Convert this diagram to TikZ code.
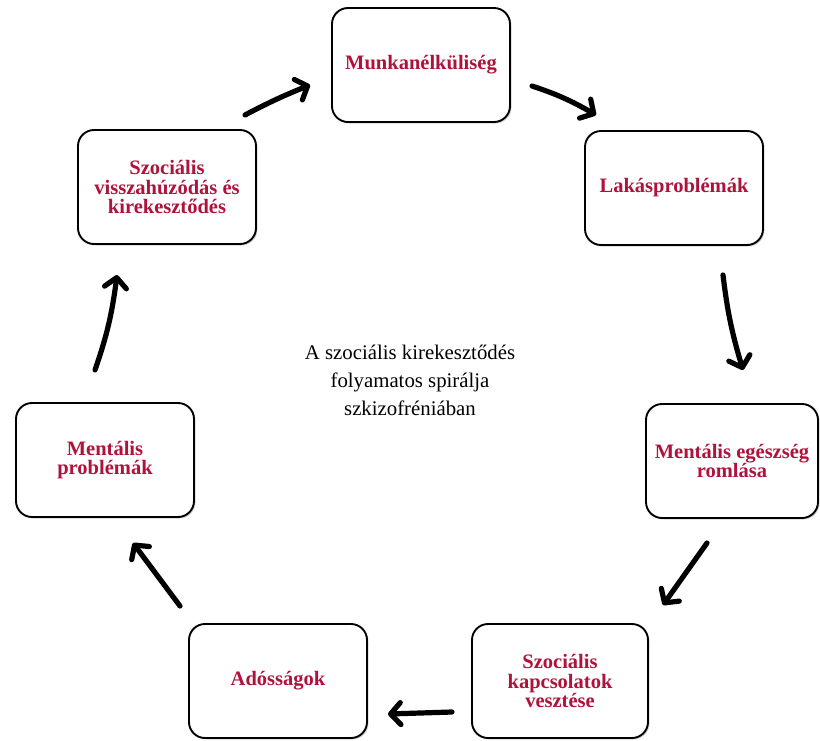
\documentclass[tikz,border=0pt]{standalone}
\usepackage{fontspec}
\setmainfont{Liberation Serif}
\usetikzlibrary{arrows.meta,shadows,bending}
\definecolor{crim}{RGB}{176,18,60}
\begin{document}
\begin{tikzpicture}[x=1pt,y=-1pt,
  box/.style={draw=black, line width=1.9pt, rounded corners=16pt, fill=white,
    minimum width=178pt, minimum height=114pt, align=center, text=crim,
    font=\bfseries\fontsize{20.5}{19.5}\selectfont,
    drop shadow={shadow xshift=1.5pt, shadow yshift=-1.5pt, opacity=0.35, fill=gray}},
  arr/.style={line width=5.2pt, line cap=round,
    -{Straight Barb[length=10pt,width=22pt,line cap=round,line join=round]}}]
\path[use as bounding box] (0,0) rectangle (820,740);

\node[box] (m) at (421,65) {Munkanélküliség};
\node[box] (l) at (674,188) {Lakásproblémák};
\node[box, minimum width=172pt] (e) at (732,461) {Mentális egészség\\romlása};
\node[box, minimum width=176pt] (k) at (560,681) {Szociális\\kapcsolatok\\vesztése};
\node[box] (d) at (278,681) {Adósságok};
\node[box] (p) at (105,460) {Mentális\\problémák};
\node[box] (v) at (167,187) {Szociális\\visszahúzódás és\\kirekesztődés};

\node[font=\fontsize{20.8}{28}\selectfont, align=center] (c) at (410,380)
  {A szociális kirekesztődés\\folyamatos spirálja\\szkizofréniában};

\coordinate (a1s) at (532,86);  \coordinate (a1e) at (596,115);
\coordinate (a2s) at (723,275); \coordinate (a2e) at (743,370);
\coordinate (a3s) at (707,543); \coordinate (a3e) at (663,605);
\coordinate (a4s) at (452,712); \coordinate (a4e) at (388,714);
\coordinate (a5s) at (180,606); \coordinate (a5e) at (133,543);
\coordinate (a6s) at (95,370);  \coordinate (a6e) at (117,275);
\coordinate (a7s) at (245,115); \coordinate (a7e) at (310,85);

\draw[arr] (a1s) to[bend left=6] (a1e);
\draw[arr] (a2s) to[bend right=5] (a2e);
\draw[arr] (a3s) -- (a3e);
\draw[arr] (a4s) -- (a4e);
\draw[arr] (a5s) -- (a5e);
\draw[arr] (a6s) to[bend right=6] (a6e);
\draw[arr] (a7s) to[bend left=3] (a7e);
\end{tikzpicture}
\end{document}
